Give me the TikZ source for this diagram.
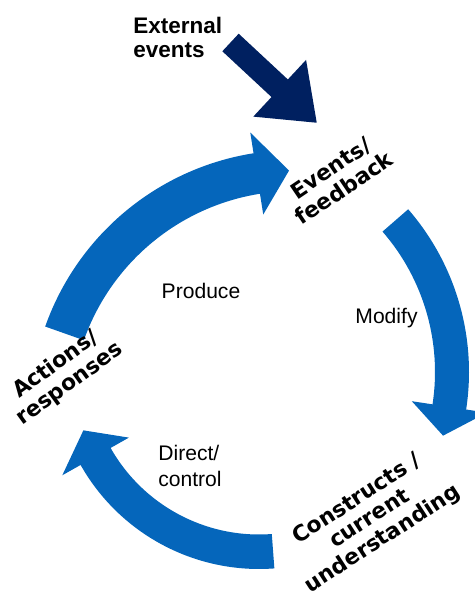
\documentclass[tikz,border=0pt]{standalone}
\usepackage{fontspec}
\newfontfamily\stagefont{DejaVu Sans}
\newfontfamily\verbfont{Liberation Sans}
\usetikzlibrary{arrows.meta}
\definecolor{cycleblue}{RGB}{5,102,187}
\definecolor{extnavy}{RGB}{0,32,96}
% curved band arrow: centre, tail angle, head base angle, tip angle, inner r, outer r
\newcommand{\cyclearrow}[6]{%
  \fill[band, shift={(#1)}] (#2:#6) arc[start angle=#2, end angle=#3, radius=#6]
    -- (#3:{#6+21}) -- (#4:{(#5+#6)/2}) -- (#3:{#5-21}) -- (#3:#5)
    arc[start angle=#3, end angle=#2, radius=#5] -- cycle;}
\begin{document}
\begin{tikzpicture}[x=0.02cm,y=0.02cm,
  band/.style={fill=cycleblue},
  stage/.style={font=\stagefont\bfseries\fontsize{12.4}{13.5}\selectfont,align=center,inner sep=0pt},
  verb/.style={font=\verbfont\fontsize{12}{14.6}\selectfont,inner sep=0pt},
  ext arrow/.style={draw=extnavy,line width=0.48cm,-{Triangle[width=1.48cm,length=1.02cm]}}]
  \path[use as bounding box] (0,0) rectangle (474,597);
  % centres of the three bands
  \coordinate (produce c) at (295,182);
  \coordinate (modify c) at (221,225);
  \coordinate (direct c) at (259,233);
  \cyclearrow{produce c}{160.5}{99}{91.4}{224}{265}
  \cyclearrow{modify c}{41}{-8.7}{-16}{214}{248}
  \cyclearrow{direct c}{-85.7}{-150.5}{-159.3}{170.5}{205}
  % stages
  \node[stage,rotate=34] (events) at (337.4,418.8) {Events/\\feedback};
  \node[stage,rotate=33] (constructs) at (370,77.6) {Constructs /\\current\\understanding};
  \node[stage,rotate=36] (actions) at (62.8,222.5) {Actions/\\responses};
  % verbs
  \node[verb,anchor=base] (produce) at (201,298) {Produce};
  \node[verb,anchor=base] (modify) at (386.5,273) {Modify};
  \node[verb,anchor=north west,align=left] (direct) at (158,152) {Direct/\\control};
  % outside input
  \node[font=\verbfont\bfseries\fontsize{12.8}{13.7}\selectfont,align=left,
    anchor=north west,inner sep=0pt] (external) at (133,580) {External\\events};
  \coordinate (ext tail) at (230.5,554.5);
  \coordinate (ext tip) at (317,474);
  \draw[ext arrow] (ext tail) -- (ext tip);
\end{tikzpicture}
\end{document}
